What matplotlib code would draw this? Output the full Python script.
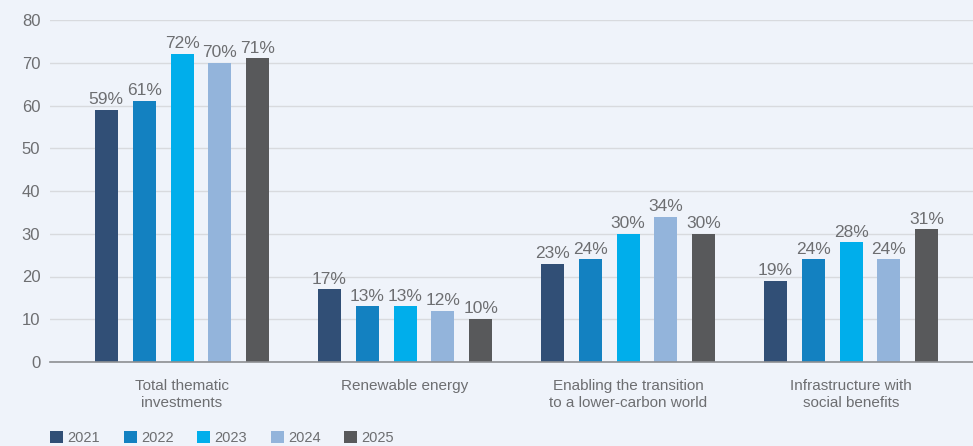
import numpy as np
import matplotlib
matplotlib.use('Agg')
import matplotlib.pyplot as plt
from matplotlib.patches import Patch

categories = ['Total thematic\ninvestments', 'Renewable energy',
              'Enabling the transition\nto a lower-carbon world',
              'Infrastructure with\nsocial benefits']
years = ['2021', '2022', '2023', '2024', '2025']
v2021 = [59, 17, 23, 19]
v2022 = [61, 13, 24, 24]
v2023 = [72, 13, 30, 28]
v2024 = [70, 12, 34, 24]
v2025 = [71, 10, 30, 31]
series = [v2021, v2022, v2023, v2024, v2025]
colors = ['#314f76', '#1381c1', '#00aeeb', '#93b4db', '#58595b']

bg = '#eff3fa'
txt = '#6d6e71'
plt.rcParams['font.family'] = ['Liberation Sans', 'DejaVu Sans']

fig = plt.figure(figsize=(9.73, 4.46), dpi=100, facecolor=bg)
ax = fig.add_axes([50/973, 84/446, 923/973, 342/446], facecolor=bg)

x = np.arange(len(categories))
step = 0.17
width = 0.103
for i, (vals, c) in enumerate(zip(series, colors)):
    pos = x + (i - 2) * step
    bars = ax.bar(pos, vals, width, color=c, zorder=3)
    for b, v in zip(bars, vals):
        ax.annotate(f'{v}%', (b.get_x() + b.get_width()/2, v),
                    xytext=(0, 2), textcoords='offset points',
                    ha='center', va='bottom', fontsize=12.5, color=txt)

ax.set_xlim(-0.592, 3.547)
ax.set_ylim(0, 80)
ax.set_yticks(range(0, 81, 10))
ax.grid(axis='y', color='#d8dade', linewidth=1, zorder=0)
for s in ['top', 'right', 'left']:
    ax.spines[s].set_visible(False)
ax.spines['bottom'].set_color('#8d8f92')
ax.spines['bottom'].set_linewidth(1.2)
ax.spines['bottom'].set_zorder(4)
ax.tick_params(axis='y', length=0, pad=7, labelsize=12, labelcolor=txt)
ax.tick_params(axis='x', length=0, pad=12, labelsize=11, labelcolor=txt)
ax.set_xticks(x)
ax.set_xticklabels(categories, linespacing=1.3)

handles = [Patch(facecolor=c, label=y) for y, c in zip(years, colors)]
fig.legend(handles=handles, loc='lower left', bbox_to_anchor=(37/973, -0.028),
           ncol=5, frameon=False, fontsize=10.5, labelcolor=txt,
           handlelength=0.9, handleheight=0.9, handletextpad=0.3,
           columnspacing=1.6)

fig.savefig('out.png', dpi=100, facecolor=bg)
